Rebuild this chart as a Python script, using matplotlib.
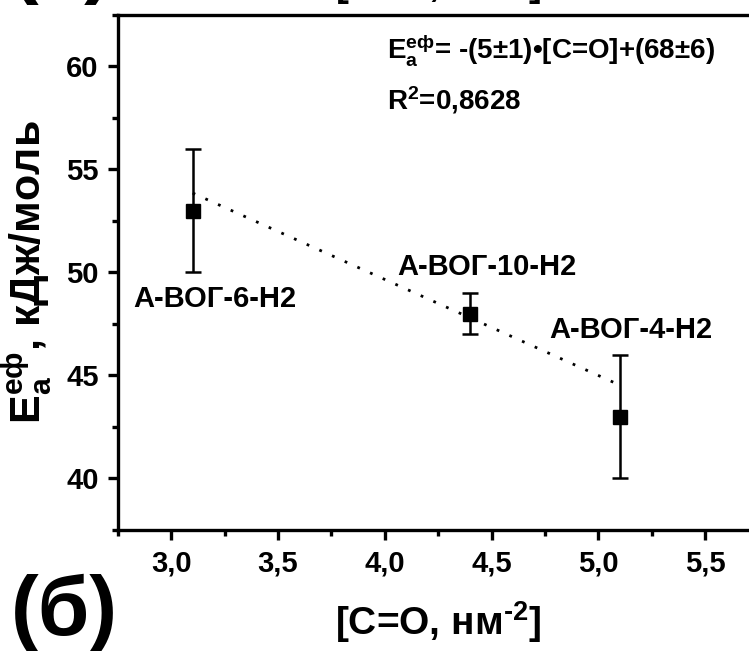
import matplotlib
matplotlib.use("Agg")
import numpy as np
import matplotlib.pyplot as plt
from matplotlib.ticker import MultipleLocator, FuncFormatter

# ===================
#  DATA
# ===================
samples   = ["А-ВОГ-6-Н2", "А-ВОГ-10-Н2", "А-ВОГ-4-Н2"]
co_conc   = [3.1, 4.4, 5.1]          # [C=O], nm^-2
ea_eff    = [53.0, 48.0, 43.0]       # kJ/mol
ea_err    = [3.0, 1.0, 3.0]
fit_slope     = -4.66
fit_intercept = 68.3
label_pos = [(2.82, 48.7), (4.06, 50.25), (4.77, 47.2)]

plt.rcParams["font.family"] = ["Liberation Sans", "DejaVu Sans"]
plt.rcParams["font.weight"] = "bold"
plt.rcParams["mathtext.fontset"] = "custom"
plt.rcParams["mathtext.rm"] = "Liberation Sans:bold"
plt.rcParams["mathtext.bf"] = "Liberation Sans:bold"
plt.rcParams["mathtext.it"] = "Liberation Sans:bold"

fig = plt.figure(figsize=(7.49, 6.51), dpi=100)
ax = fig.add_axes([0.1575, 0.186, 0.855, 0.791])

# fit line
xf = np.array([co_conc[0], co_conc[-1]])
ax.plot(xf, fit_slope * xf + fit_intercept, color="black", lw=2,
        linestyle=(0, (1, 4)))

ax.errorbar(co_conc, ea_eff, yerr=ea_err, fmt="s", color="black",
            markersize=10, elinewidth=1.8, capsize=6, capthick=1.8)

for name, (lx, ly) in zip(samples, label_pos):
    ax.text(lx, ly, name, fontsize=21, fontweight="bold", va="center", ha="left")

ax.text(0.42, 0.965, r"E$_{\mathbf{a}}^{\mathbf{еф}}$= -(5±1)•[C=O]+(68±6)",
        transform=ax.transAxes, fontsize=20, fontweight="bold", va="top")
ax.text(0.42, 0.865, r"R$^{\mathbf{2}}$=0,8628",
        transform=ax.transAxes, fontsize=20, fontweight="bold", va="top")

ax.set_xlim(2.75, 5.75)
ax.set_ylim(37.5, 62.5)
ax.xaxis.set_major_locator(MultipleLocator(0.5))
ax.xaxis.set_minor_locator(MultipleLocator(0.25))
ax.yaxis.set_major_locator(MultipleLocator(5))
ax.yaxis.set_minor_locator(MultipleLocator(2.5))
ax.xaxis.set_major_formatter(FuncFormatter(lambda v, _: f"{v:.1f}".replace(".", ",")))
ax.yaxis.set_major_formatter(FuncFormatter(lambda v, _: f"{int(v)}"))

for s in ax.spines.values():
    s.set_linewidth(2.4)
ax.tick_params(which="major", direction="out", length=7, width=2.4,
               labelsize=21, pad=7)
ax.tick_params(which="minor", direction="out", length=4, width=2.4)
for lbl in ax.get_xticklabels() + ax.get_yticklabels():
    lbl.set_fontweight("bold")

ax.set_xlabel(r"[C=O, нм$^{\mathbf{\text{-}2}}$]", fontsize=28, fontweight="bold", labelpad=16)
ax.set_ylabel(r"E$_{\mathbf{a}}^{\mathbf{еф}}$, кДж/моль", fontsize=31,
              fontweight="bold", labelpad=8)

# panel letters (this panel and the cut-off bottom of the previous one)
fig.text(0.015, 0.024, "(б)", fontsize=60, fontweight="bold", va="baseline")
fig.text(0.015, 1.019, "(а)", fontsize=60, fontweight="bold", va="baseline")
fig.text(0.585, 1.004, r"[C=O, нм$^{\mathbf{\text{-}2}}$]", fontsize=28,
         fontweight="bold", va="baseline", ha="center")

fig.savefig("out.png", dpi=100)
